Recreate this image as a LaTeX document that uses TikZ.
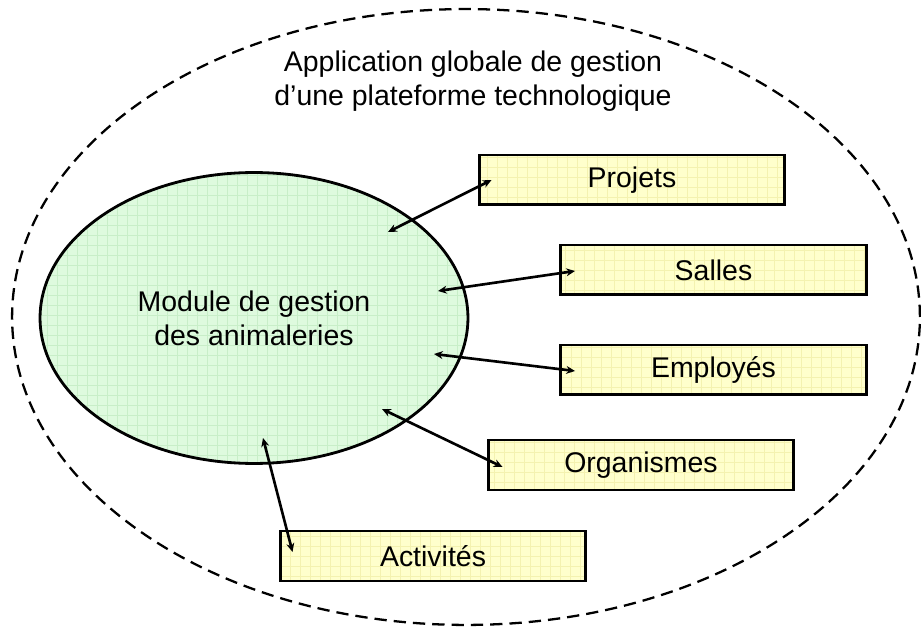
\documentclass[tikz,border=0pt]{standalone}
\usepackage{fontspec}
\setmainfont{Liberation Sans}
\usetikzlibrary{arrows.meta, positioning, calc, shapes.geometric}
\definecolor{boxyellow}{HTML}{FFFFCC}
\definecolor{boxgrid}{HTML}{F4F2B0}
\definecolor{modgreen}{HTML}{DEFADE}
\definecolor{modgrid}{HTML}{C8EEC8}

\tikzset{
  txt/.style={font=\fontsize{16.2}{19.5}\selectfont},
  entity/.style={txt, draw=black, line width=1.7pt, fill=boxyellow,
    minimum width=6.12cm, minimum height=1cm, inner sep=0pt,
    path picture={\draw[boxgrid, line width=0.3pt, step=0.2cm]
      (path picture bounding box.south west) grid (path picture bounding box.north east);}},
  module/.style={txt, ellipse, draw=black, line width=1.6pt, fill=modgreen,
    minimum width=8.56cm, minimum height=5.82cm, inner sep=0pt, align=center,
    path picture={\draw[modgrid, line width=0.3pt, step=0.2cm]
      (path picture bounding box.south west) grid (path picture bounding box.north east);}},
  link/.style={line width=1.5pt, {Stealth[length=5pt, width=4.5pt]}-{Stealth[length=5pt, width=4.5pt]}}
}

\begin{document}
\begin{tikzpicture}[x=0.02cm, y=-0.02cm]
\useasboundingbox (0,0) rectangle (921,628);

% Outer application
\node[ellipse, draw=black, line width=1.3pt, dash pattern=on 7pt off 4pt,
  minimum width=18.16cm, minimum height=12.32cm, inner sep=0pt] (app) at (466,317) {};
\node[txt, align=center] (title) at (473,81)
  {Application globale de gestion\\d’une plateforme technologique};

% Module
\node[module] (mod) at (254,318) {Module de gestion\\des animaleries};

% Entities
\node[entity] (projets) at (632,180) {Projets};
\node[entity] (salles) at (713.5,270) {Salles};
\node[entity] (employes) at (713.5,370) {Employés};
\node[entity] (organismes) at (641,465) {Organismes};
\node[entity] (activites) at (433,556) {Activités};

% Links
\draw[link] ($(mod.center)+(134,-86)$) -- ($(projets.west)+(14,0)$);
\draw[link] ($(mod.center)+(184,-27)$) -- ($(salles.west)+(16,1)$);
\draw[link] ($(mod.center)+(180,36)$) -- ($(employes.west)+(16,1)$);
\draw[link] ($(mod.center)+(128,91)$) -- ($(organismes.west)+(16,2)$);
\draw[link] ($(mod.center)+(9,120)$) -- ($(activites.west)+(14,-4)$);

\end{tikzpicture}
\end{document}
